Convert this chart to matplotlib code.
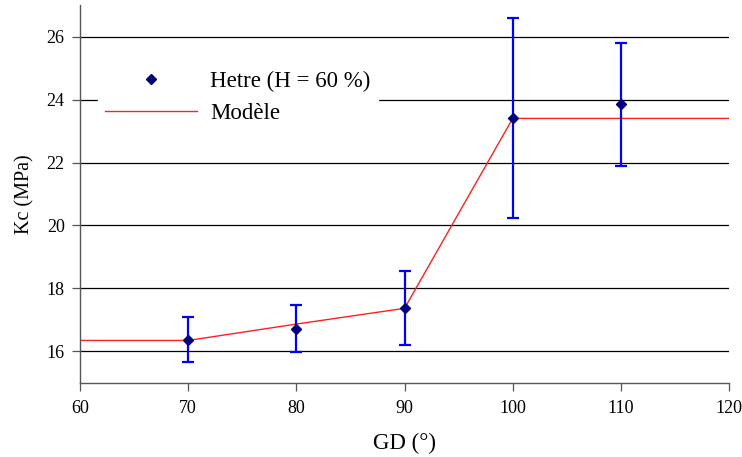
import matplotlib
matplotlib.use("Agg")
import matplotlib.pyplot as plt

# Data
gd = [70, 80, 90, 100, 110]
kc = [16.38, 16.72, 17.37, 23.40, 23.85]
kc_top = [17.10, 17.49, 18.57, 26.60, 25.80]
kc_bot = [15.66, 15.98, 16.19, 20.25, 21.90]

model_gd = [60, 70, 80, 90, 100, 120]
model_kc = [16.35, 16.35, 16.87, 17.37, 23.40, 23.40]

xticks = [60, 70, 80, 90, 100, 110, 120]
yticks = [16, 18, 20, 22, 24, 26]

plt.rcParams["font.family"] = ["Liberation Serif", "DejaVu Serif"]

fig = plt.figure(figsize=(7.42, 4.57), dpi=100)
ax = fig.add_axes([0.1078, 0.162, 0.8748, 0.827])

yerr = [[k - b for k, b in zip(kc, kc_bot)], [t - k for k, t in zip(kc, kc_top)]]

for y in yticks:
    ax.axhline(y, color="black", lw=0.9, zorder=1)

ax.plot(model_gd, model_kc, color="#ff2020", lw=1.0, zorder=2, label="Modèle")
ax.errorbar(gd, kc, yerr=yerr, fmt="none", ecolor="#0000ff", elinewidth=1.6,
            capsize=4, capthick=1.6, zorder=3)
ax.plot(gd, kc, "D", color="#000080", markersize=5.5, linestyle="none",
        zorder=4, label="Hetre (H = 60 %)")

ax.set_xlim(60, 120)
ax.set_ylim(15, 27)
ax.set_xticks(xticks)
ax.set_yticks(yticks)
ax.tick_params(labelsize=13, direction="out", length=6, color="#555555",
               width=0.9)
ax.tick_params(axis="x", pad=6)
ax.tick_params(axis="y", pad=5)
ax.spines["top"].set_visible(False)
ax.spines["right"].set_visible(False)
for s in ["left", "bottom"]:
    ax.spines[s].set_color("#555555")
    ax.spines[s].set_linewidth(1.0)

ax.set_xlabel("GD (°)", fontsize=16.5, labelpad=12)
ax.set_ylabel("Kc (MPa)", fontsize=14.5, labelpad=9)

h, l = ax.get_legend_handles_labels()
leg = ax.legend(h[::-1], l[::-1], loc="upper left", bbox_to_anchor=(0.028, 0.843),
                frameon=True, fontsize=16.5, handlelength=4.0, handletextpad=0.6,
                borderpad=0.3, labelspacing=0.45, borderaxespad=0)
leg.get_frame().set_edgecolor("white")
leg.get_frame().set_facecolor("white")
leg.get_frame().set_alpha(1.0)
leg.get_frame().set_boxstyle("square", pad=0.0)

fig.savefig("out.png", dpi=100)
